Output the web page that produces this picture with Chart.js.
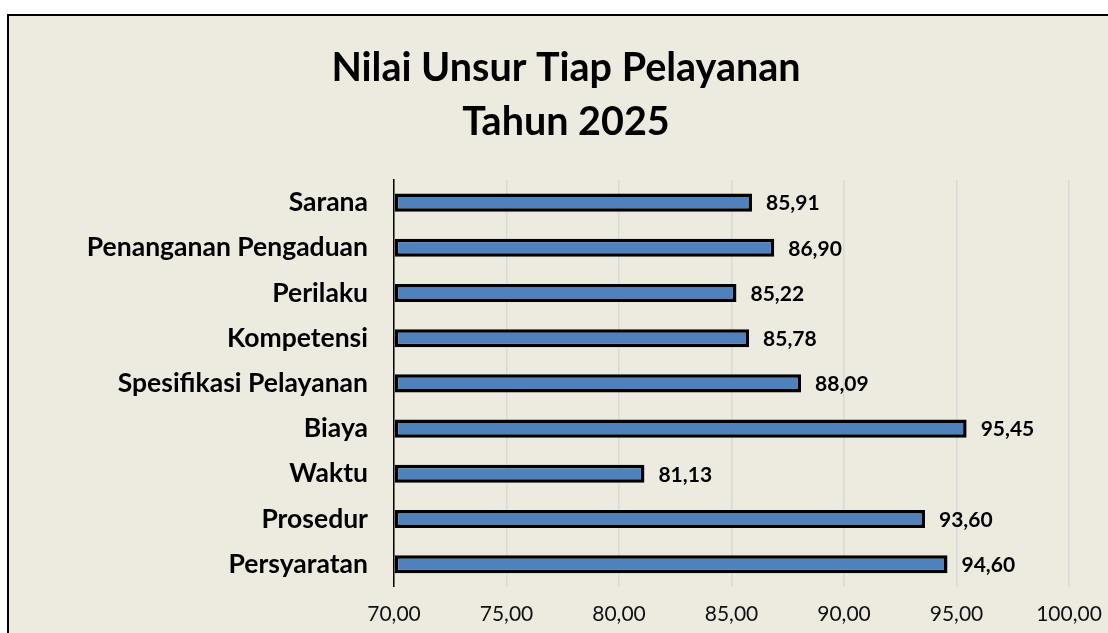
<!DOCTYPE html>
<html>
<head>
<meta charset="utf-8">
<script src="https://cdn.jsdelivr.net/npm/chart.js@4/dist/chart.umd.min.js"></script>
<style>
    html, body { margin: 0; padding: 0; background: #fff; overflow: hidden; }
    #kotak {
        position: absolute;
        left: 7px; top: 14px;
        width: 1110px; height: 640px;
        border: 2px solid #000;
        background: #EDEAE0;
    }
    #grafik { display: block; }
</style>
</head>
<body>
<div id="kotak"><canvas id="grafik" width="1110" height="640"></canvas></div>
<script>
// Data, urutan dari atas ke bawah
const kategori = ['Sarana', 'Penanganan Pengaduan', 'Perilaku', 'Kompetensi',
    'Spesifikasi Pelayanan', 'Biaya', 'Waktu', 'Prosedur', 'Persyaratan'];
const nilai = [85.91, 86.90, 85.22, 85.78, 88.09, 95.45, 81.13, 93.60, 94.60];

// Sumbu X
const sumbuMin = 70;
const sumbuMax = 100;
const sumbuLangkah = 5;

const judul = ['Nilai Unsur Tiap Pelayanan', 'Tahun 2025'];

const FONT = 'Lato';

// format angka gaya Indonesia: 85,91
const fmt = v => Number(v).toFixed(2).replace('.', ',');

// Plugin kecil untuk label nilai di ujung batang
const labelNilai = {
    id: 'labelNilai',
    afterDatasetsDraw(chart) {
        const ctx = chart.ctx;
        const meta = chart.getDatasetMeta(0);
        ctx.save();
        ctx.font = 'bold 21px ' + FONT;
        ctx.fillStyle = '#000';
        ctx.textAlign = 'left';
        ctx.textBaseline = 'middle';
        meta.data.forEach((bar, i) => {
            ctx.fillText(fmt(nilai[i]), bar.x + 14, bar.y + 1);
        });
        ctx.restore();
    }
};

new Chart(document.getElementById('grafik'), {
    type: 'bar',
    data: {
        labels: kategori,
        datasets: [{
            data: nilai,
            base: sumbuMin,
            backgroundColor: '#4F81BD',
            borderColor: '#000',
            borderWidth: 3.5,
            borderSkipped: false,
            barPercentage: 0.8,
            categoryPercentage: 0.5
        }]
    },
    options: {
        indexAxis: 'y',
        responsive: false,
        animation: false,
        layout: {
            // kiri 54 supaya judul tepat di tengah kotak
            padding: { left: 54, right: 50, top: 25, bottom: 14 }
        },
        plugins: {
            legend: { display: false },
            tooltip: { enabled: false },
            title: {
                display: true,
                text: judul,
                color: '#000',
                font: { family: FONT, size: 39.5, weight: 'bold', lineHeight: 1.367 },
                padding: { top: 0, bottom: 31 }
            }
        },
        scales: {
            x: {
                min: sumbuMin,
                max: sumbuMax,
                grid: {
                    color: '#D9D9D9',
                    lineWidth: 1.5,
                    drawTicks: false
                },
                border: { display: false },
                ticks: {
                    stepSize: sumbuLangkah,
                    color: '#111',
                    font: { family: FONT, size: 21 },
                    padding: 15,
                    callback: v => fmt(v)
                }
            },
            y: {
                grid: { display: false, drawTicks: false },
                border: { display: true, color: '#000', width: 1.5 },
                ticks: {
                    color: '#000',
                    font: { family: FONT, size: 26.5, weight: 'bold' },
                    padding: 26
                },
                afterFit: s => { s.width = 331; }
            }
        }
    },
    plugins: [labelNilai]
});
</script>
</body>
</html>
